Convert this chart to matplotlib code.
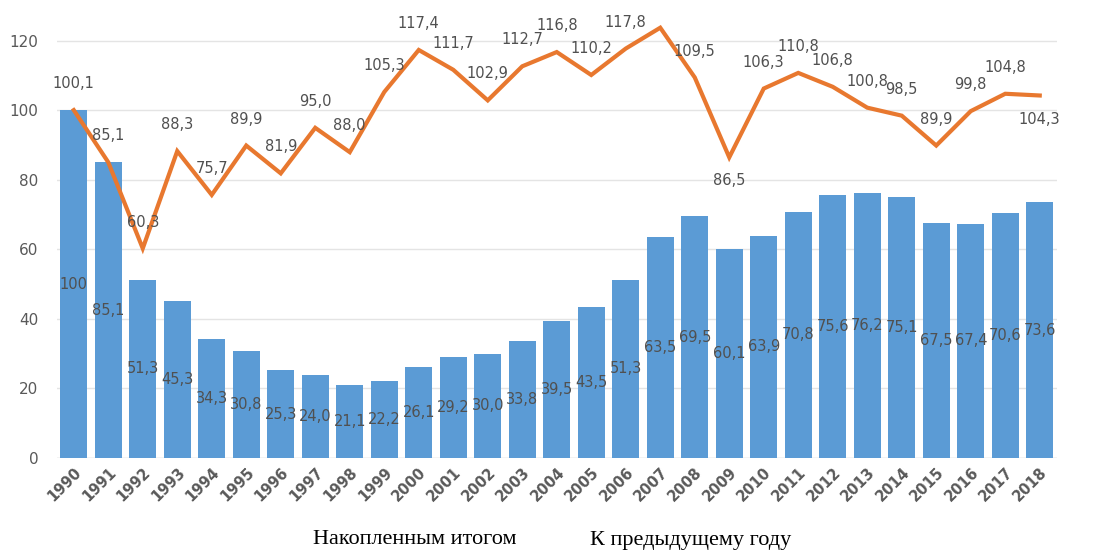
import matplotlib
matplotlib.use("Agg")
import matplotlib.pyplot as plt
import numpy as np

years = [str(y) for y in range(1990, 2019)]
cumulative = [100, 85.1, 51.3, 45.3, 34.3, 30.8, 25.3, 24.0, 21.1, 22.2,
              26.1, 29.2, 30.0, 33.8, 39.5, 43.5, 51.3, 63.5, 69.5, 60.1,
              63.9, 70.8, 75.6, 76.2, 75.1, 67.5, 67.4, 70.6, 73.6]
prev_year = [100.1, 85.1, 60.3, 88.3, 75.7, 89.9, 81.9, 95.0, 88.0, 105.3,
             117.4, 111.7, 102.9, 112.7, 116.8, 110.2, 117.8, 123.8, 109.5, 86.5,
             106.3, 110.8, 106.8, 100.8, 98.5, 89.9, 99.8, 104.8, 104.3]
# label placement for the line: 'a' above, 'b' below, None hidden
line_label_place = ['a'] * 29
line_label_place[17] = None
line_label_place[19] = 'b'
line_label_place[28] = 'b'

series_names = ["Накопленным итогом", "К предыдущему году"]

bar_color = "#5B9BD5"
line_color = "#E8782F"
text_color = "#595959"

def fmt(v):
    s = f"{v:.1f}".replace(".", ",")
    if v == 100 and s == "100,0":
        return "100"
    return s

fig = plt.figure(figsize=(10.93, 5.52), dpi=100)
ax = fig.add_axes([56.5 / 1093, 1 - 458 / 552, (1057 - 56.5) / 1093, (458 - 10) / 552])

x = np.arange(len(years))
ax.bar(x, cumulative, width=0.79, color=bar_color, zorder=2)
ax.plot(x, prev_year, color=line_color, lw=3.0, zorder=3, solid_joinstyle='miter')

lab_font = dict(fontsize=10.5, color="#505050", family="DejaVu Sans")
for xi, v in zip(x, cumulative):
    ax.text(xi, v / 2, fmt(v), ha='center', va='center', zorder=4, **lab_font)
for xi, v, p in zip(x, prev_year, line_label_place):
    if p is None:
        continue
    dy = 19 if p == 'a' else -17
    ax.annotate(fmt(v), (xi, v), xytext=(0, dy), textcoords='offset points',
                ha='center', va='center', zorder=4, **lab_font)

ax.set_xlim(-0.5, len(years) - 0.5)
ax.set_ylim(0, 128.9)
ax.set_yticks(range(0, 121, 20))
ax.set_xticks(x)
ax.set_xticklabels(years, rotation=45, ha='right', rotation_mode='anchor',
                   fontsize=10.5, color=text_color, fontweight='bold')
ax.tick_params(axis='y', labelsize=11, labelcolor=text_color, length=0, pad=13)
ax.tick_params(axis='x', length=0, pad=5)
ax.grid(axis='y', color="#E4E4E4", lw=1, zorder=0)
for s in ax.spines.values():
    s.set_visible(False)
ax.axhline(0, color="#D9D9D9", lw=1, zorder=1)

fig.text(313 / 1093, 1 - 540 / 552, series_names[0], ha='left', va='center',
         fontsize=16, family="Liberation Serif", color="black")
fig.text(590 / 1093, 1 - 540 / 552, series_names[1], ha='left', va='center',
         fontsize=16, family="Liberation Serif", color="black")

fig.savefig("out.png", dpi=100, facecolor="white")
